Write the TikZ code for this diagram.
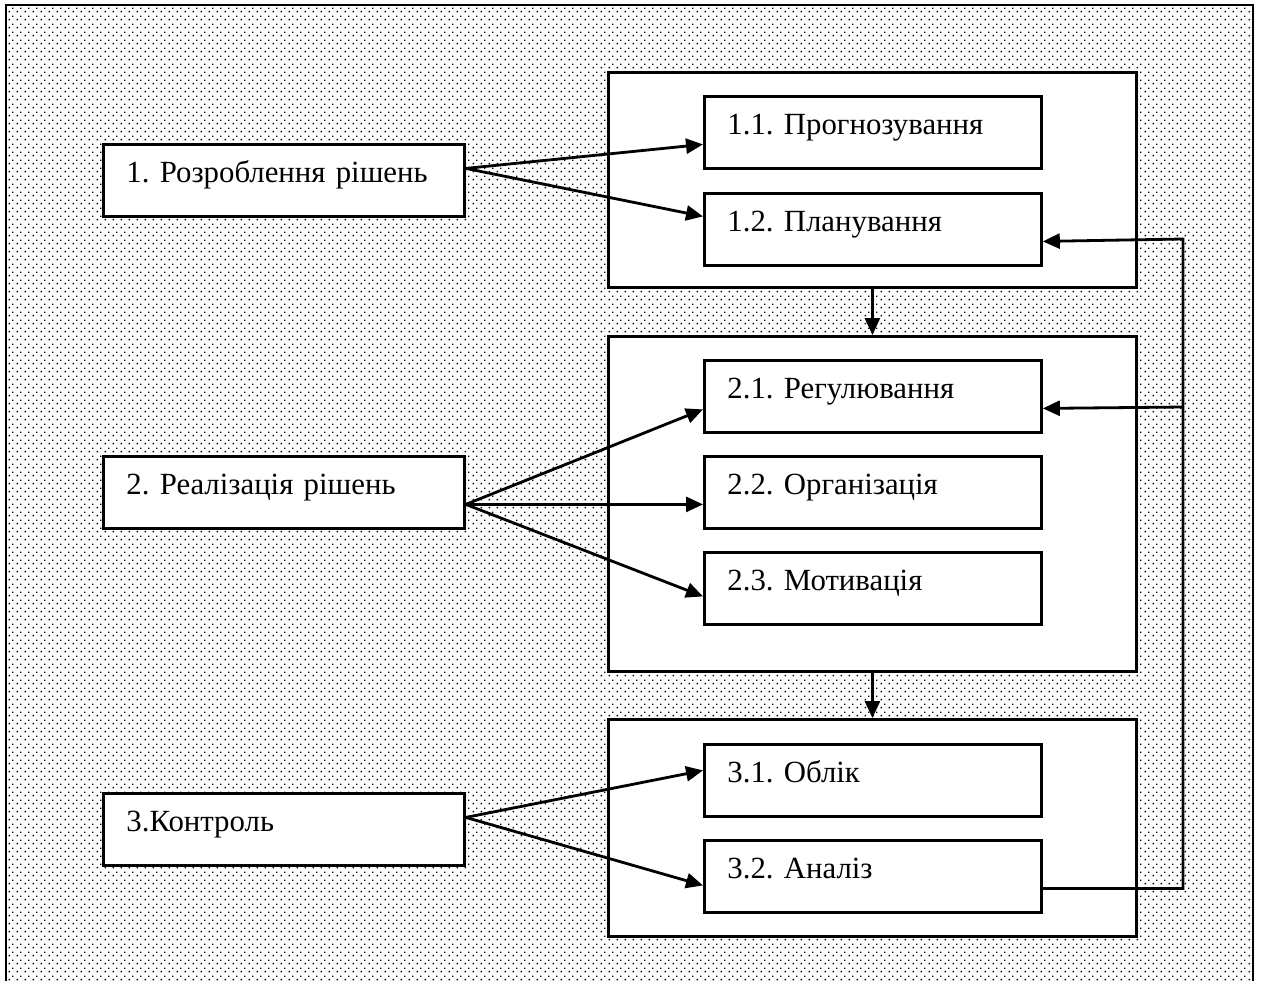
\documentclass[tikz,border=0pt]{standalone}
\usepackage{fontspec}
\setmainfont{Liberation Serif}
\usepackage{tikz}
\usetikzlibrary{arrows.meta,positioning,patterns.meta,calc}
\frenchspacing

\tikzdeclarepattern{
  name=bgdots,
  type=uncolored,
  bottom left={(0,0)},
  top right={(4pt,4pt)},
  tile size={(4pt,4pt)},
  code={\fill (0.3pt,0.3pt) rectangle ++(0.9pt,0.9pt); \fill (2.3pt,2.3pt) rectangle ++(0.7pt,0.7pt);}
}

\tikzset{
  box/.style={draw, line width=1.4pt, fill=white, inner xsep=11.5pt, inner ysep=0pt, text height=19pt, text depth=17pt, align=left, anchor=north west},
  leftbox/.style={box, text width=157.5pt},
  subbox/.style={box, text width=145.5pt},
  group/.style={draw, line width=1.4pt, fill=white, inner sep=0pt, minimum width=264pt, anchor=north west},
  arr/.style={line width=1.4pt, -{Triangle[length=8.5pt,width=7.5pt]}}
}

\begin{document}
\begin{tikzpicture}[x=0.5pt, y=-0.5pt, every node/.style={font=\fontsize{15.4}{18}\selectfont}]
\useasboundingbox (0,0) rectangle (1261,980);
\fill[white] (0,0) rectangle (1261,980);
\fill[pattern=bgdots, pattern color=black] (6,5) rectangle (1253,980);
\draw[line width=1.4pt] (6,982) -- (6,5) -- (1253,5) -- (1253,982);
% groups
\node[group, minimum height=107.5pt] (g1) at (607,71) {};
\node[group, minimum height=167.5pt] (g2) at (607,335) {};
\node[group, minimum height=108.5pt] (g3) at (607,718) {};
\draw[arr] (g1.south) -- (g2.north);
\draw[arr] (g2.south) -- (g3.north);
% functions
\node[leftbox] (r1) at (102,143) {1. Розроблення рішень};
\node[leftbox] (r2) at (102,455) {2. Реалізація рішень};
\node[leftbox] (r3) at (102,792) {3.Контроль};
\foreach \n/\y/\t in {a11/95/{1.1. Прогнозування}, a12/192/{1.2. Планування}, a21/359/{2.1. Регулювання}, a22/455/{2.2. Організація}, a23/551/{2.3. Мотивація}, a31/743/{3.1. Облік}, a32/839/{3.2. Аналіз}}
  \node[subbox] (\n) at (703,\y) {\t};
% links
\draw[arr] ([yshift=6pt]r1.east) -- ([yshift=-6pt]a11.west);
\draw[arr] ([yshift=6pt]r1.east) -- ([yshift=6.5pt]a12.west);
\foreach \n/\s in {a21/-6.5pt, a22/-6pt, a23/-4pt} \draw[arr] ([yshift=-6pt]r2.east) -- ([yshift=\s]\n.west);
\draw[arr] ([yshift=6pt]r3.east) -- ([yshift=5pt]a31.west);
\draw[arr] ([yshift=6pt]r3.east) -- ([yshift=-4.5pt]a32.west);
% feedback
\coordinate (fbtop) at (1183,239);
\coordinate (fbmid) at (1183,407);
\draw[arr] ([yshift=-6pt]a32.east) -| (fbtop) -- ([yshift=-6pt]a12.east);
\draw[arr] (fbmid) -- ([yshift=-6pt]a21.east);
\end{tikzpicture}
\end{document}
